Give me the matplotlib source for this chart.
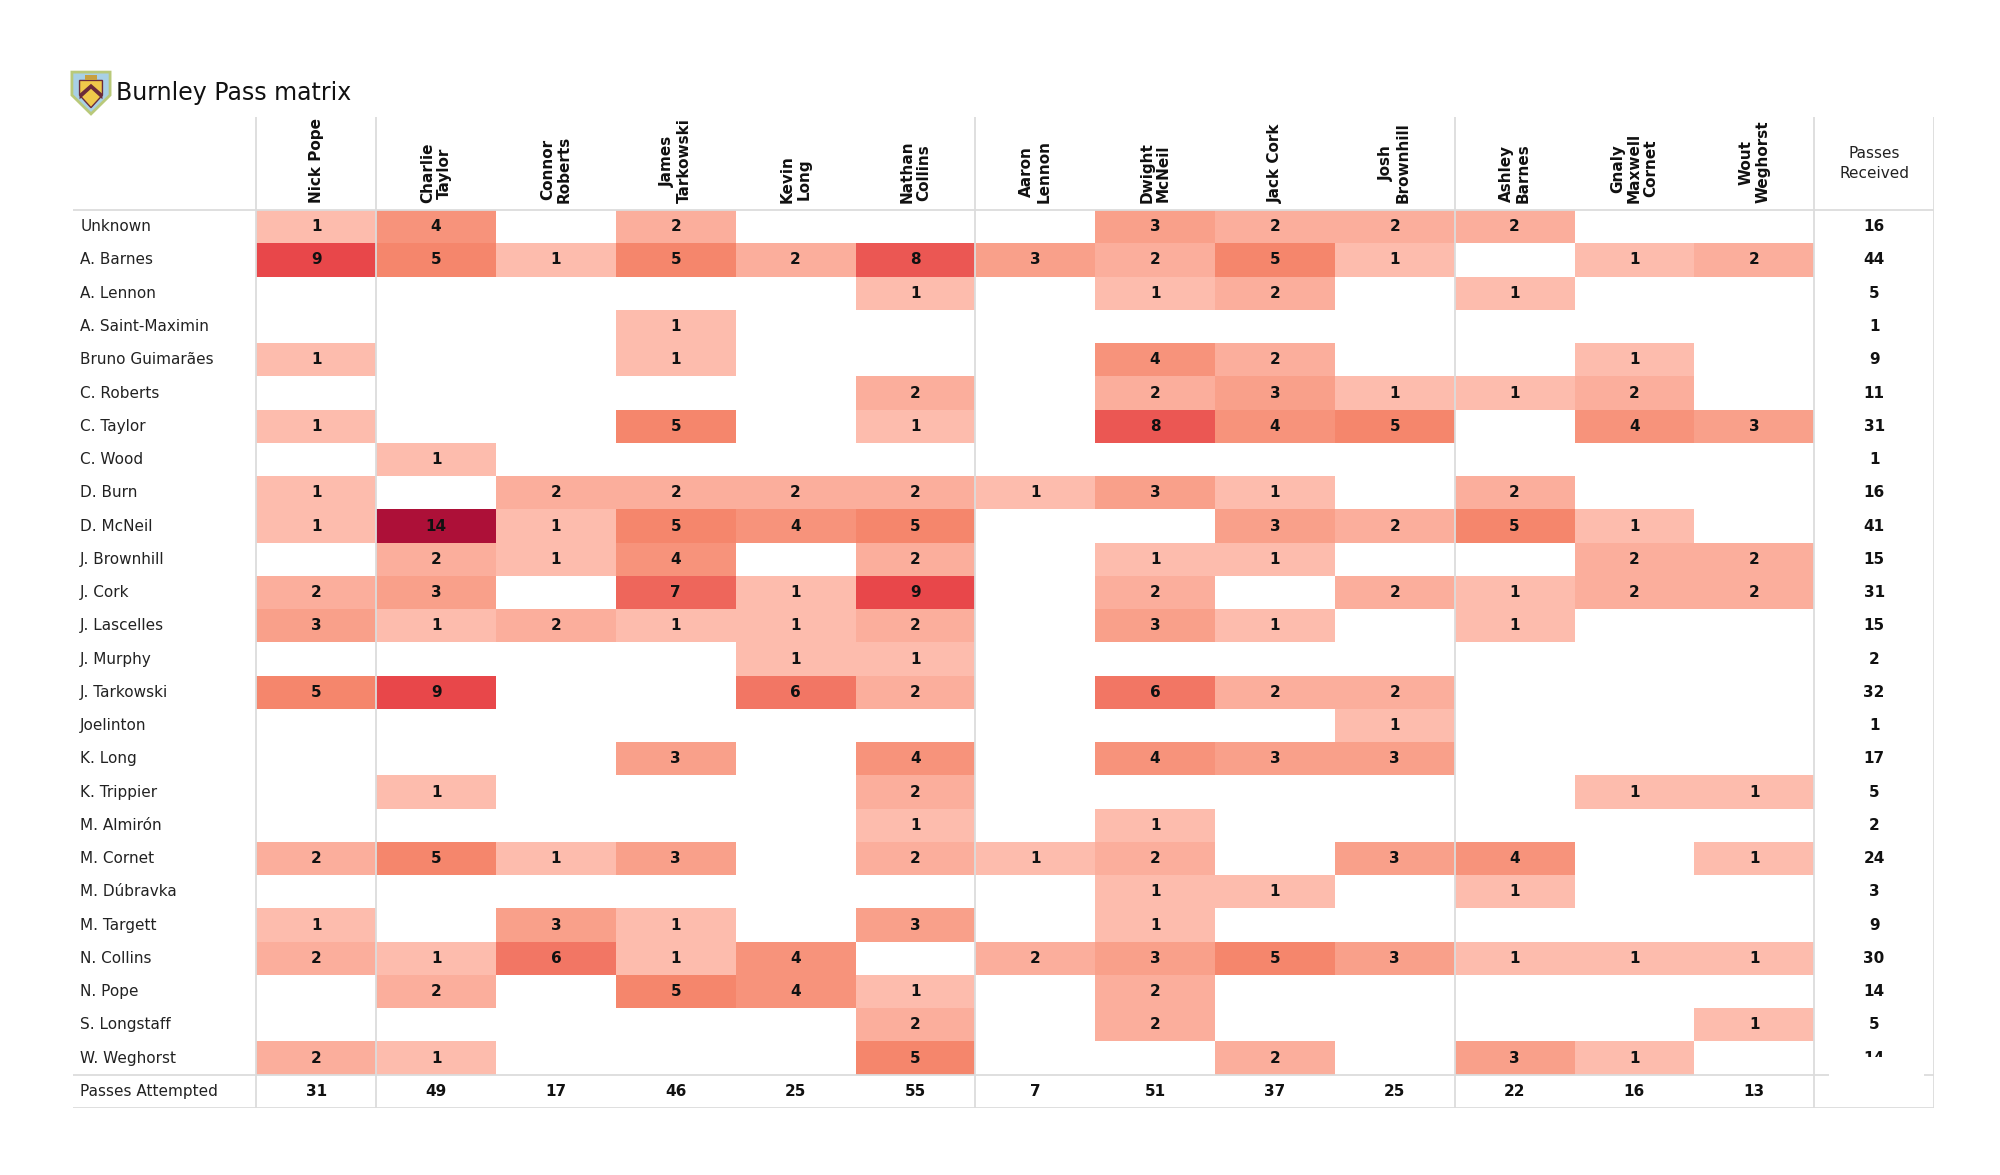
import numpy as np
import matplotlib
matplotlib.use("Agg")
from matplotlib import pyplot as plt
from matplotlib.colors import LinearSegmentedColormap, Normalize
from matplotlib.patches import Polygon, Rectangle

# Burnley pass matrix: rows = passer, columns = receiver
receivers = ["Nick Pope", "Charlie\nTaylor", "Connor\nRoberts", "James\nTarkowski",
             "Kevin\nLong", "Nathan\nCollins", "Aaron\nLennon", "Dwight\nMcNeil",
             "Jack Cork", "Josh\nBrownhill", "Ashley\nBarnes", "Gnaly\nMaxwell\nCornet",
             "Wout\nWeghorst"]

passers = ["Unknown", "A. Barnes", "A. Lennon", "A. Saint-Maximin", "Bruno Guimarães",
           "C. Roberts", "C. Taylor", "C. Wood", "D. Burn", "D. McNeil", "J. Brownhill",
           "J. Cork", "J. Lascelles", "J. Murphy", "J. Tarkowski", "Joelinton", "K. Long",
           "K. Trippier", "M. Almirón", "M. Cornet", "M. Dúbravka", "M. Targett",
           "N. Collins", "N. Pope", "S. Longstaff", "W. Weghorst"]

#           NP  CT  CR  JT  KL  NC  AL  DM  JC  JB  AB  GC  WW
passes = [[1,  4,  0,  2,  0,  0,  0,  3,  2,  2,  2,  0,  0],
          [9,  5,  1,  5,  2,  8,  3,  2,  5,  1,  0,  1,  2],
          [0,  0,  0,  0,  0,  1,  0,  1,  2,  0,  1,  0,  0],
          [0,  0,  0,  1,  0,  0,  0,  0,  0,  0,  0,  0,  0],
          [1,  0,  0,  1,  0,  0,  0,  4,  2,  0,  0,  1,  0],
          [0,  0,  0,  0,  0,  2,  0,  2,  3,  1,  1,  2,  0],
          [1,  0,  0,  5,  0,  1,  0,  8,  4,  5,  0,  4,  3],
          [0,  1,  0,  0,  0,  0,  0,  0,  0,  0,  0,  0,  0],
          [1,  0,  2,  2,  2,  2,  1,  3,  1,  0,  2,  0,  0],
          [1, 14,  1,  5,  4,  5,  0,  0,  3,  2,  5,  1,  0],
          [0,  2,  1,  4,  0,  2,  0,  1,  1,  0,  0,  2,  2],
          [2,  3,  0,  7,  1,  9,  0,  2,  0,  2,  1,  2,  2],
          [3,  1,  2,  1,  1,  2,  0,  3,  1,  0,  1,  0,  0],
          [0,  0,  0,  0,  1,  1,  0,  0,  0,  0,  0,  0,  0],
          [5,  9,  0,  0,  6,  2,  0,  6,  2,  2,  0,  0,  0],
          [0,  0,  0,  0,  0,  0,  0,  0,  0,  1,  0,  0,  0],
          [0,  0,  0,  3,  0,  4,  0,  4,  3,  3,  0,  0,  0],
          [0,  1,  0,  0,  0,  2,  0,  0,  0,  0,  0,  1,  1],
          [0,  0,  0,  0,  0,  1,  0,  1,  0,  0,  0,  0,  0],
          [2,  5,  1,  3,  0,  2,  1,  2,  0,  3,  4,  0,  1],
          [0,  0,  0,  0,  0,  0,  0,  1,  1,  0,  1,  0,  0],
          [1,  0,  3,  1,  0,  3,  0,  1,  0,  0,  0,  0,  0],
          [2,  1,  6,  1,  4,  0,  2,  3,  5,  3,  1,  1,  1],
          [0,  2,  0,  5,  4,  1,  0,  2,  0,  0,  0,  0,  0],
          [0,  0,  0,  0,  0,  2,  0,  2,  0,  0,  0,  0,  1],
          [2,  1,  0,  0,  0,  5,  0,  0,  2,  0,  3,  1,  0]]

passes_received = [16, 44, 5, 1, 9, 11, 31, 1, 16, 41, 15, 31, 15, 2, 32, 1, 17, 5, 2,
                   24, 3, 9, 30, 14, 5, 14]
passes_attempted = [31, 49, 17, 46, 25, 55, 7, 51, 37, 25, 22, 16, 13]

# column groups (GK | DEF | MID | FWD) get a separator line
group_edges = [0, 1, 6, 10, 13, 14]

cmap = LinearSegmentedColormap.from_list(
    "burnley_reds",
    [(0.0, "#fdbcad"), (2 / 13, "#f9a08a"), (4 / 13, "#f5866c"),
     (8 / 13, "#e8474a"), (1.0, "#ad1038")])
norm = Normalize(vmin=1, vmax=14)

fig = plt.figure(figsize=(20, 11.75), dpi=100)
ax = fig.add_axes([73 / 2000, 1 - 1108 / 1175, (1934 - 73) / 2000, (1108 - 117) / 1175])

n_rows = len(passers)
n_cols = len(receivers)
left = -1.53
head = -2.8

mat = np.ma.masked_equal(np.array(passes), 0)
ax.pcolormesh(np.arange(n_cols + 1), np.arange(n_rows + 1), mat, cmap=cmap, norm=norm,
              shading="flat", zorder=1)

grid_kw = dict(color="#dcdcdc", lw=1.3, zorder=2)
for x in group_edges:
    ax.plot([x, x], [head, n_rows + 1], **grid_kw)
for y in [0, n_rows, n_rows + 1]:
    ax.plot([left, n_cols + 1], [y, y], **grid_kw)

# cell values
for i in range(n_rows):
    for j in range(n_cols):
        if passes[i][j] > 0:
            ax.text(j + 0.5, i + 0.5, str(passes[i][j]), ha="center", va="center",
                    fontsize=11, fontweight="bold", color="#111111", zorder=3)

# row labels and received totals
for i, name in enumerate(passers):
    ax.text(left + 0.06, i + 0.5, name, ha="left", va="center", fontsize=11,
            color="#222222", zorder=3)
    ax.text(n_cols + 0.5, i + 0.5, str(passes_received[i]), ha="center", va="center",
            fontsize=11, fontweight="bold", color="#111111", zorder=3)

# bottom row
ax.text(left + 0.06, n_rows + 0.5, "Passes Attempted", ha="left", va="center",
        fontsize=11, color="#222222")
for j, v in enumerate(passes_attempted):
    ax.text(j + 0.5, n_rows + 0.5, str(v), ha="center", va="center", fontsize=11,
            fontweight="bold", color="#111111")

# column headers
for j, name in enumerate(receivers):
    ax.text(j + 0.5, -0.2, name, rotation=90, ha="center", va="bottom",
            multialignment="center", fontsize=11, fontweight="bold", color="#111111",
            linespacing=1.15)
ax.text(n_cols + 0.5, -1.4, "Passes\nReceived", ha="center", va="center",
        fontsize=11, color="#222222", linespacing=1.35)

# the last received total is partly hidden in the original
ax.add_patch(Rectangle((n_cols + 0.12, n_rows - 0.52), 0.8, 1.2, facecolor="white",
                       edgecolor="none", zorder=4))

ax.set_xlim(left, n_cols + 1)
ax.set_ylim(n_rows + 1, head)
ax.axis("off")

# title with a simple crest
fig.text(116 / 2000, 1 - 93 / 1175, "Burnley Pass matrix", fontsize=17, va="center",
         ha="left", color="#111111")
lax = fig.add_axes([70 / 2000, 1 - 116 / 1175, 42 / 2000, 46 / 1175])
lax.add_patch(Polygon([[0, 1], [1, 1], [1, 0.45], [0.5, 0], [0, 0.45]], closed=True,
                      facecolor="#a8d0e6", edgecolor="#b9c97a", lw=2))
lax.add_patch(Polygon([[0.2, 0.8], [0.8, 0.8], [0.8, 0.45], [0.5, 0.15], [0.2, 0.45]],
                      closed=True, facecolor="#f0c94a", edgecolor="#6b2b3a", lw=1))
lax.add_patch(Polygon([[0.2, 0.35], [0.5, 0.6], [0.8, 0.35], [0.8, 0.48], [0.5, 0.72],
                       [0.2, 0.48]], closed=True, facecolor="#6b2b3a", edgecolor="none"))
lax.add_patch(Rectangle((0.35, 0.82), 0.3, 0.12, facecolor="#c8a040", edgecolor="none"))
lax.set_xlim(-0.05, 1.05)
lax.set_ylim(-0.05, 1.05)
lax.axis("off")

fig.savefig("out.png", dpi=100, facecolor="white")
